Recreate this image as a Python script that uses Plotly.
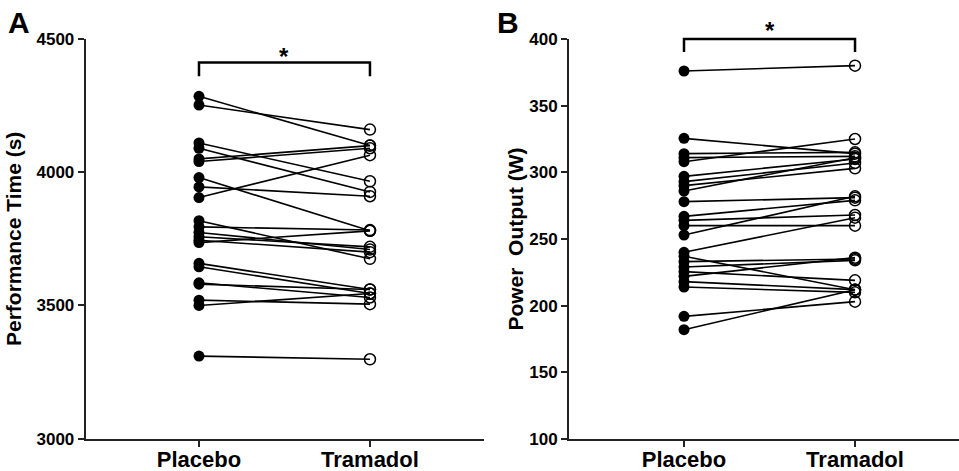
import plotly.graph_objects as go

# ---------------- data ----------------
groups = ["Placebo", "Tramadol"]

placebo_time = [4285, 4252, 4110, 4090, 4050, 4040, 3980, 3945, 3905, 3818, 3795,
                3774, 3758, 3745, 3736, 3658, 3645, 3585, 3580, 3520, 3500, 3310]
tramadol_time = [4100, 4160, 3966, 3926, 4100, 4090, 3780, 3910, 4064, 3675, 3783,
                 3710, 3720, 3700, 3780, 3560, 3545, 3530, 3560, 3505, 3545, 3298]

placebo_power = [376, 325.5, 314, 311, 308, 297, 293, 290, 286, 278, 267, 264,
                 260, 253, 240, 237, 233, 229, 225.5, 222, 218, 214, 192, 182]
tramadol_power = [380, 314, 315, 312, 325, 310, 307, 303, 311, 281, 279, 268,
                  260, 282, 266, 212, 235, 234, 219, 236, 212, 210, 203, 212]

time_ticks = [3000, 3500, 4000, 4500]
power_ticks = [100, 150, 200, 250, 300, 350, 400]

# ---------------- layout constants ----------------
W, H = 959, 471
FONT = "Liberation Sans, Arial, sans-serif"
xrA = [-0.6626, 1.667]
xrB = [-0.6725, 1.608]
yrA = [3000, 4500]
yrB = [100, 400]
domXA = [85.7 / W, 484 / W]
domXB = [569 / W, 1.0]
domYA = [1 - 438.7 / H, 1 - 39 / H]
domYB = [1 - 439 / H, 1 - 39 / H]

fig = go.Figure()


def add_panel(pl, tr, xa, ya):
    xs, ys = [], []
    for p, t in zip(pl, tr):
        xs += [0, 1, None]
        ys += [p, t, None]
    fig.add_trace(go.Scatter(x=xs, y=ys, mode="lines", xaxis=xa, yaxis=ya,
                             line=dict(color="black", width=1.6),
                             hoverinfo="skip", showlegend=False))
    fig.add_trace(go.Scatter(x=[0] * len(pl), y=pl, mode="markers", xaxis=xa, yaxis=ya,
                             marker=dict(symbol="circle", size=11, color="black"),
                             showlegend=False, cliponaxis=False))
    fig.add_trace(go.Scatter(x=[1] * len(tr), y=tr, mode="markers", xaxis=xa, yaxis=ya,
                             marker=dict(symbol="circle-open", size=11, color="black",
                                         line=dict(width=1.5, color="black")),
                             showlegend=False, cliponaxis=False))


add_panel(placebo_time, tramadol_time, "x", "y")
add_panel(placebo_power, tramadol_power, "x2", "y2")

axis_common = dict(showline=True, linecolor="#222", linewidth=2, ticks="outside",
                   ticklen=6, tickwidth=2, tickcolor="#222", showgrid=False,
                   zeroline=False, fixedrange=True, automargin=False)
xcommon = dict(axis_common, tickvals=[0, 1], ticktext=groups, ticklabelstandoff=-6,
               tickfont=dict(family=FONT, size=22, color="black", weight="bold"))
ycommon = dict(axis_common,
               tickfont=dict(family=FONT, size=17, color="black", weight="bold"))

fig.update_layout(
    template="none",
    width=W, height=H, margin=dict(l=0, r=0, t=0, b=0, pad=0),
    paper_bgcolor="white", plot_bgcolor="white",
    xaxis=dict(xcommon, domain=domXA, range=xrA, anchor="y"),
    yaxis=dict(ycommon, domain=domYA, range=yrA, tickvals=time_ticks, anchor="x",
               title=dict(text="Performance Time (s)", standoff=9,
                          font=dict(family=FONT, size=21, color="black", weight="bold"))),
    xaxis2=dict(xcommon, domain=domXB, range=xrB, anchor="y2"),
    yaxis2=dict(ycommon, domain=domYB, range=yrB, tickvals=power_ticks, anchor="x2",
                title=dict(text="Power  Output (W)", standoff=0,
                           font=dict(family=FONT, size=21, color="black", weight="bold"))),
)


def frac(v, r):
    return (v - r[0]) / (r[1] - r[0])


# significance brackets (domain references so they are not clipped)
for xa, ya, xr, yr, top, bot, star in [("x", "y", xrA, yrA, 4412, 4360, 4435),
                                        ("x2", "y2", xrB, yrB, 400, 390.3, 406)]:
    x0, x1 = frac(0, xr), frac(1, xr)
    yt, yb = frac(top, yr), frac(bot, yr)
    fig.add_shape(type="path", xref=xa + " domain", yref=ya + " domain",
                  path=f"M {x0},{yb} L {x0},{yt} L {x1},{yt} L {x1},{yb}",
                  line=dict(color="black", width=2.5))
    fig.add_annotation(x=frac(0.5, xr), y=frac(star, yr), xref=xa + " domain",
                       yref=ya + " domain", text="*", showarrow=False,
                       xanchor="center", yanchor="middle",
                       font=dict(family=FONT, size=24, color="black", weight="bold"))

# panel letters
for lab, px in [("A", 19), ("B", 508)]:
    fig.add_annotation(x=px / W, y=1 - 23 / H, xref="paper", yref="paper", text=lab,
                       showarrow=False, xanchor="center", yanchor="middle",
                       font=dict(family=FONT, size=30, color="black", weight="bold"))

fig.write_html("out.html")
